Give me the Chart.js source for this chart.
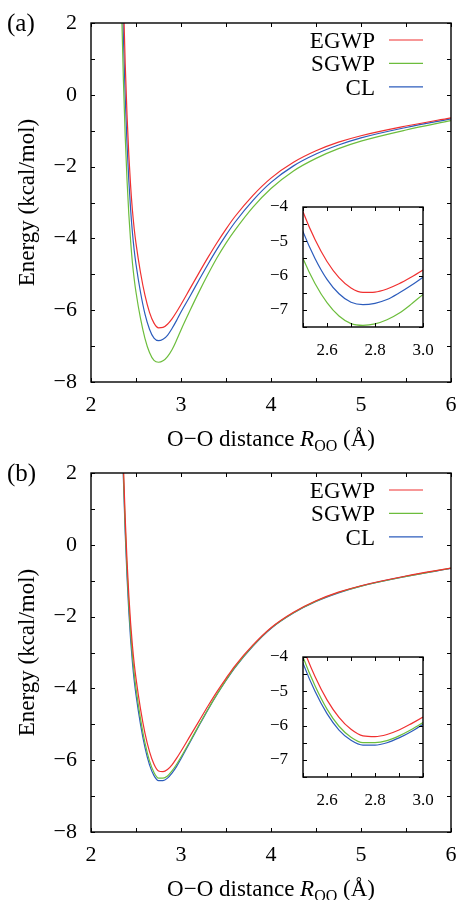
<!DOCTYPE html>
<html>
<head>
<meta charset="utf-8">
<script src="https://cdn.jsdelivr.net/npm/chart.js@4.4.0/dist/chart.umd.min.js"></script>
<style>
html, body { margin: 0; padding: 0; background: #fff; overflow: hidden; }
.panel { position: absolute; left: 0; width: 458px; }
canvas { position: absolute; }
</style>
</head>
<body>
<div class="panel" style="top:0;height:460px">
  <canvas id="mainA" width="458" height="460" style="left:0;top:0"></canvas>
  <canvas id="insetA" width="180" height="170" style="left:255px;top:195px"></canvas>
</div>
<div class="panel" style="top:450px;height:450px">
  <canvas id="mainB" width="458" height="450" style="left:0;top:0"></canvas>
  <canvas id="insetB" width="180" height="170" style="left:255px;top:195px"></canvas>
</div>
<script>
// O-O distance (Angstrom)
const distance = [2.30, 2.32, 2.34, 2.36, 2.38, 2.40, 2.42, 2.44, 2.46, 2.48, 2.50, 2.55, 2.60, 2.65, 2.70, 2.75, 2.80,
    2.85, 2.90, 2.95, 3.00, 3.10, 3.20, 3.30, 3.40, 3.50, 3.60, 3.80, 4.00, 4.25, 4.50, 4.75, 5.00, 5.50, 6.00];

// panel (a), kcal/mol
const egwpA = [11.6, 8.08, 5.06, 2.71, 0.87, -0.55, -1.67, -2.53, -3.21, -3.73, -4.14, -4.95, -5.59, -6.06, -6.36, -6.49, -6.48,
    -6.39, -6.24, -6.05, -5.84, -5.40, -4.96, -4.53, -4.12, -3.74, -3.39, -2.80, -2.32, -1.88, -1.56, -1.32, -1.14, -0.87, -0.64];
const sgwpA = [8.07, 4.89, 2.38, 0.41, -1.14, -2.36, -3.32, -4.07, -4.67, -5.13, -5.50, -6.23, -6.79, -7.18, -7.40, -7.45, -7.41,
    -7.29, -7.10, -6.84, -6.55, -6.01, -5.49, -5.00, -4.54, -4.13, -3.77, -3.13, -2.61, -2.12, -1.77, -1.50, -1.29, -0.98, -0.72];
const clA = [9.81, 6.40, 3.72, 1.61, -0.05, -1.36, -2.38, -3.19, -3.83, -4.33, -4.72, -5.50, -6.11, -6.53, -6.78, -6.85, -6.81,
    -6.70, -6.51, -6.29, -6.05, -5.61, -5.16, -4.72, -4.30, -3.91, -3.55, -2.94, -2.44, -1.98, -1.65, -1.40, -1.20, -0.91, -0.67];

// panel (b), kcal/mol
const egwpB = [8.97, 6.23, 4.01, 2.21, 0.75, -0.43, -1.39, -2.17, -2.80, -3.31, -3.72, -4.57, -5.25, -5.76, -6.11, -6.30, -6.32,
    -6.26, -6.13, -5.95, -5.75, -5.33, -4.91, -4.49, -4.09, -3.72, -3.37, -2.79, -2.31, -1.88, -1.56, -1.32, -1.14, -0.87, -0.65];
const sgwpB = [8.87, 6.07, 3.81, 1.99, 0.51, -0.69, -1.66, -2.44, -3.07, -3.59, -4.00, -4.84, -5.52, -6.02, -6.34, -6.50, -6.50,
    -6.44, -6.30, -6.12, -5.91, -5.47, -5.02, -4.58, -4.16, -3.77, -3.41, -2.81, -2.32, -1.89, -1.57, -1.33, -1.15, -0.88, -0.65];
const clB = [9.02, 6.09, 3.74, 1.85, 0.33, -0.88, -1.86, -2.64, -3.27, -3.78, -4.18, -5.00, -5.65, -6.13, -6.43, -6.57, -6.57,
    -6.50, -6.36, -6.18, -5.96, -5.50, -5.04, -4.59, -4.17, -3.78, -3.42, -2.82, -2.33, -1.90, -1.58, -1.34, -1.15, -0.88, -0.66];

const seriesNames = ['EGWP', 'SGWP', 'CL'];
const distanceLabels = [2, 3, 4, 5, 6];
const energyLabels = [2, 0, -2, -4, -6, -8];
const insetDistanceLabels = [2.6, 2.8, 3.0];
const insetEnergyLabels = [-4, -5, -6, -7];

const colors = ['#f03030', '#6cbd3c', '#2c5cbc'];
const serif = '"Liberation Serif"';
Chart.defaults.font.family = 'Liberation Serif';
Chart.defaults.color = '#000';

function pts(ys) {
    return distance.map((x, i) => ({ x: x, y: ys[i] }));
}
function fmt(v, d) {
    var s = Math.abs(v).toFixed(d);
    return v < 0 ? '\u2212' + s : s;
}
function has(list, v) {
    return list.some(l => Math.abs(l - v) < 1e-6);
}
// keep the plot box where the layout padding puts it
function noEdgePad(s) {
    s.paddingLeft = 0; s.paddingRight = 0; s.paddingTop = 0; s.paddingBottom = 0;
}

// border box + inward ticks on all four sides
const frameTicks = {
    id: 'frameTicks',
    afterDatasetsDraw(chart, args, opts) {
        var ctx = chart.ctx, a = chart.chartArea;
        var xs = chart.scales.x, ys = chart.scales.y;
        var len = opts.len || 4;
        ctx.save();
        ctx.strokeStyle = '#000';
        ctx.lineWidth = 1;
        ctx.beginPath();
        xs.ticks.forEach(t => {
            var px = Math.round(xs.getPixelForValue(t.value)) + 0.5;
            ctx.moveTo(px, a.bottom); ctx.lineTo(px, a.bottom - len);
            ctx.moveTo(px, a.top); ctx.lineTo(px, a.top + len);
        });
        ys.ticks.forEach(t => {
            var py = Math.round(ys.getPixelForValue(t.value)) + 0.5;
            ctx.moveTo(a.left, py); ctx.lineTo(a.left + len, py);
            ctx.moveTo(a.right, py); ctx.lineTo(a.right - len, py);
        });
        ctx.stroke();
        ctx.lineWidth = 1.4;
        ctx.strokeRect(a.left, a.top, a.right - a.left, a.bottom - a.top);
        ctx.restore();
    }
};

// panel letter, key and x axis title
const annot = {
    id: 'annot',
    afterDraw(chart, args, opts) {
        var ctx = chart.ctx, a = chart.chartArea;
        ctx.save();
        ctx.fillStyle = '#000';
        ctx.textBaseline = 'alphabetic';
        ctx.font = '25px ' + serif;
        ctx.textAlign = 'left';
        ctx.fillText(opts.panel, 7, 31);

        ctx.font = '23px ' + serif;
        ctx.textAlign = 'right';
        chart.data.datasets.forEach((ds, i) => {
            var y = a.top + 17 + i * 23.4;
            ctx.fillText(ds.label, a.right - 76, y + 8);
            ctx.strokeStyle = ds.borderColor;
            ctx.lineWidth = 1.2;
            ctx.beginPath();
            ctx.moveTo(a.right - 62, y);
            ctx.lineTo(a.right - 28, y);
            ctx.stroke();
        });

        var parts = [
            { t: 'O\u2212O distance ', f: '23px ' + serif, dy: 0 },
            { t: 'R', f: 'italic 23px ' + serif, dy: 0 },
            { t: 'OO', f: '16px ' + serif, dy: 5 },
            { t: ' (\u00C5)', f: '23px ' + serif, dy: 0 }
        ];
        var total = 0;
        parts.forEach(p => { ctx.font = p.f; p.w = ctx.measureText(p.t).width; total += p.w; });
        var x = (a.left + a.right) / 2 - total / 2;
        var base = a.bottom + 64;
        ctx.textAlign = 'left';
        parts.forEach(p => {
            ctx.font = p.f;
            ctx.fillText(p.t, x, base + p.dy);
            x += p.w;
        });
        ctx.restore();
    }
};

function makeSets(series) {
    return series.map((ys, i) => ({
        label: seriesNames[i],
        data: pts(ys),
        borderColor: colors[i],
        borderWidth: 1.2,
        pointRadius: 0,
        cubicInterpolationMode: 'monotone',
        fill: false
    }));
}

function mainChart(id, series, panel) {
    var canvas = document.getElementById(id);
    var h = canvas.height;
    return new Chart(canvas, {
        type: 'line',
        data: { datasets: makeSets(series) },
        options: {
            responsive: false,
            animation: false,
            events: [],
            layout: { padding: { top: 23, right: 7, left: 0, bottom: 0 } },
            plugins: {
                legend: { display: false },
                tooltip: { enabled: false },
                frameTicks: { len: 4 },
                annot: { panel: panel }
            },
            scales: {
                x: {
                    type: 'linear', min: 2, max: 6,
                    grid: { display: false, drawTicks: false },
                    border: { display: false },
                    ticks: {
                        stepSize: 0.5, padding: 10, maxRotation: 0, autoSkip: false,
                        font: { size: 22 },
                        callback: v => has(distanceLabels, v) ? String(v) : ''
                    },
                    afterFit: s => { s.height = h - 382; noEdgePad(s); }
                },
                y: {
                    type: 'linear', min: -8, max: 2,
                    grid: { display: false, drawTicks: false },
                    border: { display: false },
                    ticks: {
                        stepSize: 1, padding: 14, autoSkip: false,
                        font: { size: 22 },
                        callback: v => has(energyLabels, v) ? fmt(v, 0) : ''
                    },
                    title: { display: true, text: 'Energy (kcal/mol)', font: { size: 23 }, padding: { top: 14 } },
                    afterFit: s => { s.width = 91; noEdgePad(s); }
                }
            }
        },
        plugins: [frameTicks, annot]
    });
}

function insetChart(id, series) {
    return new Chart(document.getElementById(id), {
        type: 'line',
        data: { datasets: makeSets(series) },
        options: {
            responsive: false,
            animation: false,
            events: [],
            layout: { padding: { top: 12, right: 12, left: 0, bottom: 0 } },
            plugins: {
                legend: { display: false },
                tooltip: { enabled: false },
                frameTicks: { len: 4 }
            },
            scales: {
                x: {
                    type: 'linear', min: 2.5, max: 3.0,
                    grid: { display: false, drawTicks: false },
                    border: { display: false },
                    ticks: {
                        stepSize: 0.1, padding: 13, maxRotation: 0, autoSkip: false,
                        font: { size: 17 },
                        callback: v => has(insetDistanceLabels, v) ? v.toFixed(1) : ''
                    },
                    afterFit: s => { s.height = 38; noEdgePad(s); }
                },
                y: {
                    type: 'linear', min: -7.5, max: -4,
                    grid: { display: false, drawTicks: false },
                    border: { display: false },
                    ticks: {
                        stepSize: 0.5, padding: 15, autoSkip: false,
                        font: { size: 17 },
                        callback: v => has(insetEnergyLabels, v) ? fmt(v, 0) : ''
                    },
                    afterFit: s => { s.width = 48; noEdgePad(s); }
                }
            }
        },
        plugins: [frameTicks]
    });
}

mainChart('mainA', [egwpA, sgwpA, clA], '(a)');
insetChart('insetA', [egwpA, sgwpA, clA]);
mainChart('mainB', [egwpB, sgwpB, clB], '(b)');
insetChart('insetB', [egwpB, sgwpB, clB]);
</script>
</body>
</html>
